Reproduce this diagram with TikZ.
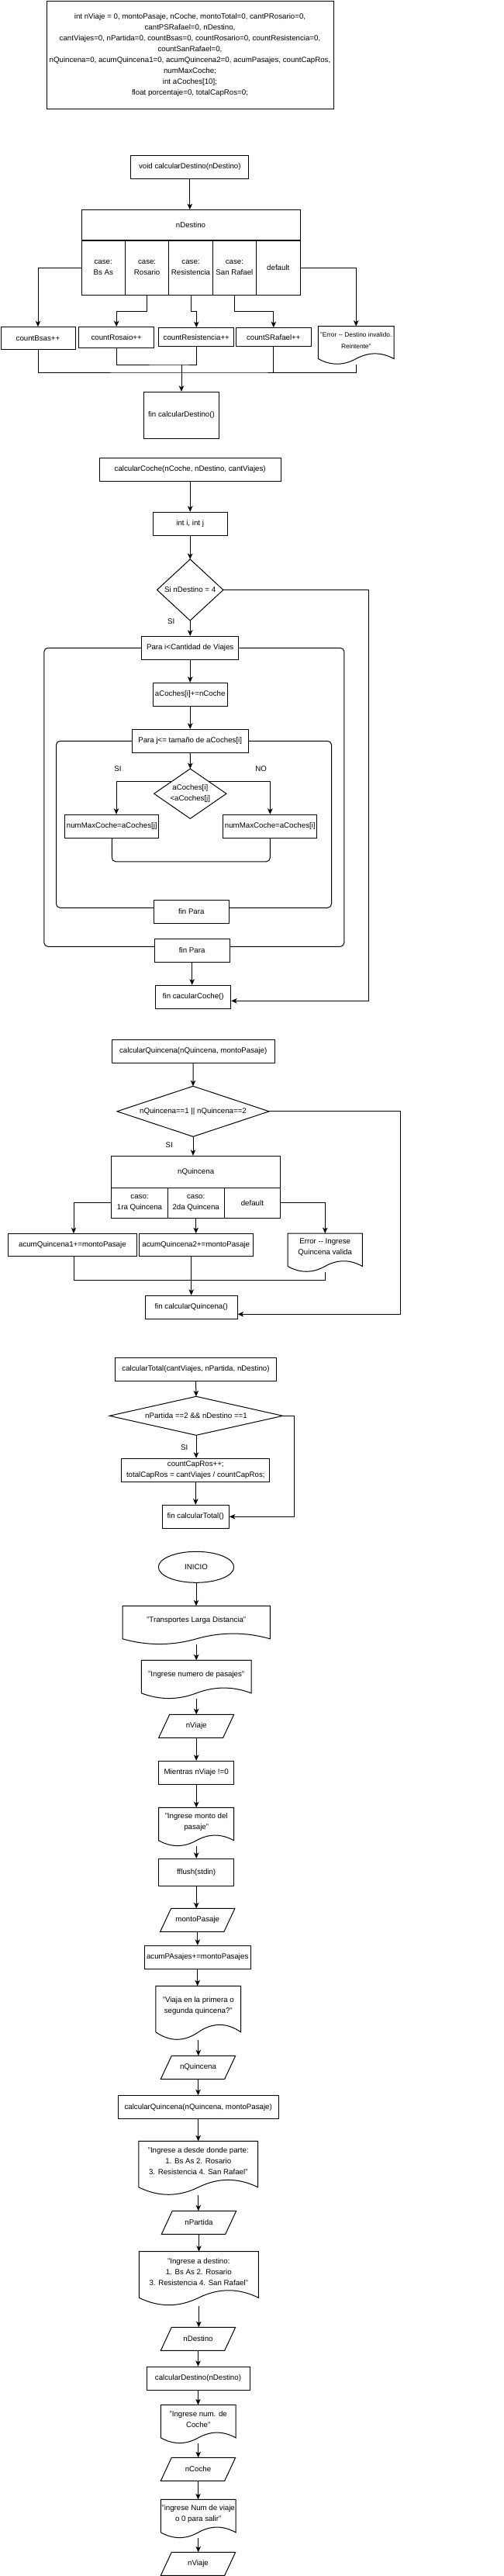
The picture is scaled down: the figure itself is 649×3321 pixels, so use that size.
\documentclass[tikz,border=0pt]{standalone}
\usepackage{fontspec}
\setmainfont{Liberation Sans}
\usetikzlibrary{arrows.meta,positioning,shapes.geometric,calc}

\tikzset{
  caja/.style={draw, rectangle, align=center, inner sep=1pt},
  hueco/.style={rectangle, align=center, inner sep=1pt, outer sep=0pt},
  tam/.style 2 args={minimum width=#1pt, minimum height=#2pt},
  flecha/.style={-{Stealth[length=7.5pt,width=6.5pt,inset=2pt]}},
  lazo/.style={rounded corners=5pt},
  etiq/.style={inner sep=0pt}
}
% contornos dibujados sobre un nodo vacio
\newcommand{\rombo}[1]{\draw (#1.north) -- (#1.east) -- (#1.south) -- (#1.west) -- cycle;}
\newcommand{\paral}[1]{\draw ([xshift=14pt]#1.north west) -- (#1.north east) -- ([xshift=-14pt]#1.south east) -- (#1.south west) -- cycle;}
\newcommand{\docwave}[1]{%
  \draw let \p1=(#1.south west), \p2=(#1.north east) in
    (\x1,\y2) -- (\x2,\y2) -- (\x2,{\y1+0.15*((\y2)-(\y1))})
    .. controls ({\x1+0.8333*((\x2)-(\x1))},{\y1+0.33*((\y2)-(\y1))}) and ({\x1+0.6667*((\x2)-(\x1))},{\y1+0.33*((\y2)-(\y1))}) .. ({\x1+0.5*((\x2)-(\x1))},{\y1+0.15*((\y2)-(\y1))})
    .. controls ({\x1+0.3333*((\x2)-(\x1))},{\y1-0.03*((\y2)-(\y1))}) and ({\x1+0.1667*((\x2)-(\x1))},{\y1-0.03*((\y2)-(\y1))}) .. (\x1,{\y1+0.15*((\y2)-(\y1))}) -- cycle;}
\newcommand{\docu}[6][]{%
  \node[hueco, tam={#4}{#5}] (#2) at (#3) {};
  \node[align=center, inner sep=0pt, #1] (#2t) at ([yshift={0.13*#5pt}]#2.center) {#6};
  \docwave{#2}}

\begin{document}
\begin{tikzpicture}[x=1pt, y=-1pt, line width=1pt, font=\fontsize{9.7}{14}\selectfont]
  \useasboundingbox (0,0) rectangle (649,3321);
  % Variables
  \node[caja, tam={370}{139}] (vars) at (245,71) {int nViaje = 0, montoPasaje, nCoche, montoTotal=0, cantPRosario=0,\\ cantPSRafael=0, nDestino,\\ cantViajes=0, nPartida=0, countBsas=0, countRosario=0, countResistencia=0,\\ countSanRafael=0,\\ nQuincena=0, acumQuincena1=0, acumQuincena2=0, acumPasajes, countCapRos,\\ numMaxCoche;\\ int aCoches[10];\\ float porcentaje=0, totalCapRos=0;};

  % calcularDestino
  \node[caja, tam={152}{30}] (fDest) at (244.8,215.3) {void calcularDestino(nDestino)};
  \node[caja, tam={282}{39.3}] (swDest) at (246,290.3) {nDestino};
  \node[caja, tam={56.4}{70}] (csBsAs) at (133.2,345) {case:\\Bs As};
  \node[caja, tam={56.4}{70}] (csRos) at (189.6,345) {case:\\Rosario};
  \node[caja, tam={56.4}{70}] (csRes) at (246,345) {case:\\Resistencia};
  \node[caja, tam={56.4}{70}] (csSanR) at (302.4,345) {case:\\San Rafael};
  \node[caja, tam={56.4}{70}] (csDef) at (358.8,345) {default};
  \node[caja, tam={96}{28.6}] (cntBsas) at (49,436) {countBsas++};
  \node[caja, tam={97}{27.3}] (cntRos) at (150.2,435.3) {countRosaio++};
  \node[caja, tam={97.3}{24.3}] (cntRes) at (253.3,434.8) {countResistencia++};
  \node[caja, tam={97}{24.3}] (cntSRaf) at (352.8,434.8) {countSRafael++};
  \docu[font=\fontsize{8.3}{14.4}\selectfont]{errDest}{459.2,445.3}{97.7}{49.3}{"Error -{}- Destino invalido.\\Reintente"}
  \node[caja, tam={96.6}{60}] (finDest) at (234,535.3) {fin calcularDestino()};
  \coordinate (jDest) at (234,480);
  \coordinate (jDest2) at (234,470);

  \draw[flecha] (fDest.south) -- (fDest.south |- swDest.north);
  \draw[flecha] (csBsAs.west) -| (cntBsas.north);
  \draw[flecha] (csRos.south) -- ++(0,21) -| (cntRos.north);
  \draw[flecha] (csRes.south) -- ++(0,21) -| (cntRes.north);
  \draw[flecha] (csSanR.south) -- ++(0,21) -| (cntSRaf.north);
  \draw[flecha] (csDef.east) -| (errDest.north);
  \draw (cntBsas.south) |- (jDest) -| (errDest.south);
  \draw (cntSRaf.south) -- (cntSRaf.south |- jDest);
  \draw (cntRos.south) |- (jDest2) -| (cntRes.south);
  \draw[flecha] (jDest2) -- (finDest.north);

  % calcularCoche
  \node[caja, tam={233.7}{30}] (fCoche) at (245.2,605.3) {calcularCoche(nCoche, nDestino, cantViajes)};
  \node[caja, tam={96.3}{30}] (intIJ) at (245.2,675.3) {int i, int j};
  \node[hueco, tam={85.4}{79}] (dCoche) at (245.2,760.5) {Si nDestino = 4};
  \rombo{dCoche}
  \node[etiq] (siCoche) at (220.7,801) {SI};
  \node[caja, tam={125.4}{30}] (paraI) at (245.2,835.3) {Para i<Cantidad de Viajes};
  \node[caja, tam={96.3}{30}] (aCoch) at (245.2,895.3) {aCoches[i]+=nCoche};
  \node[caja, tam={149.7}{30}] (paraJ) at (245.2,955.3) {Para j<= tamaño de aCoches[i]};
  \node[hueco, tam={93.3}{64.3}] (dMax) at (245.3,1023.2) {aCoches[i]\\<aCoches[j]};
  \rombo{dMax}
  \node[etiq] (siMax) at (152,991) {SI};
  \node[etiq] (noMax) at (336.7,991) {NO};
  \node[caja, tam={120.7}{30}] (maxJ) at (144.3,1065.3) {numMaxCoche=aCoches[j]};
  \node[caja, tam={120.7}{30}] (maxI) at (348.3,1065.3) {numMaxCoche=aCoches[i]};
  \node[caja, tam={97}{30}] (finParaJ) at (246.8,1175.3) {fin Para};
  \node[caja, tam={96.7}{30}] (finParaI) at (247.7,1225.3) {fin Para};
  \node[caja, tam={96.7}{30}] (finCoche) at (249.3,1285.3) {fin cacularCoche()};

  \draw[flecha] (fCoche) -- (intIJ);
  \draw[flecha] (intIJ) -- (dCoche.north);
  \draw[flecha] (dCoche.south) -- (paraI);
  \draw[flecha] (paraI) -- (aCoch);
  \draw[flecha] (aCoch) -- (paraJ);
  \draw[flecha] (paraJ) -- (dMax.north);
  \draw[flecha] ($(dMax.north)!0.5!(dMax.west)$) -| ([xshift=5.7pt]maxJ.north);
  \draw[flecha] ($(dMax.north)!0.5!(dMax.east)$) -| (maxI.north);
  \draw[lazo] (maxJ.south) |- ([yshift=-30pt]maxI.south) -- (maxI.south);
  \draw[lazo] (paraJ.west) -| ([xshift=-125.3pt,yshift=5pt]finParaJ.west) -- ([yshift=5pt]finParaJ.west);
  \draw[lazo] (paraJ.east) -| ([xshift=131.7pt,yshift=5pt]finParaJ.east) -- ([yshift=5pt]finParaJ.east);
  \draw[lazo] (paraI.west) -| ([xshift=-142pt,yshift=5pt]finParaI.west) -- ([yshift=5pt]finParaI.west);
  \draw[lazo] (paraI.east) -| ([xshift=147.3pt,yshift=5pt]finParaI.east) -- ([yshift=5pt]finParaI.east);
  \draw[flecha] (finParaI.south) -- (finParaI.south |- finCoche.north);
  \draw[flecha] (dCoche.east) -| ([xshift=177.3pt,yshift=-5pt]finCoche.east) -- ([yshift=-5pt]finCoche.east);

  % calcularQuincena
  \node[caja, tam={209.7}{30}] (fQuin) at (249.2,1355.3) {calcularQuincena(nQuincena, montoPasaje)};
  \node[hueco, tam={196}{65}] (dQuin) at (249,1432.8) {nQuincena==1 || nQuincena==2};
  \rombo{dQuin}
  \node[etiq] (siQuin) at (218.3,1476) {SI};
  \node[caja, tam={218}{40.7}] (swQuin) at (252.7,1510.7) {nQuincena};
  \node[caja, tam={72.7}{39.3}] (csQ1) at (180,1550.7) {caso:\\1ra Quincena};
  \node[caja, tam={72.7}{39.3}] (csQ2) at (252.7,1550.7) {caso:\\2da Quincena};
  \node[caja, tam={72.7}{39.3}] (csQDef) at (325.4,1550.7) {default};
  \node[caja, tam={166.7}{29.3}] (acumQ1) at (93.4,1605.3) {acumQuincena1+=montoPasaje};
  \node[caja, tam={146.7}{29.3}] (acumQ2) at (252.7,1605.3) {acumQuincena2+=montoPasaje};
  \docu{errQuin}{419.2,1615}{96.3}{50}{Error -{}- Ingrese\\Quincena valida}
  \node[caja, tam={118.7}{30}] (finQuin) at (246.7,1685.3) {fin calcularQuincena()};

  \draw[flecha] (fQuin.south) -- (dQuin.north);
  \draw[flecha] (dQuin.south) -- (dQuin.south |- swQuin.north);
  \draw[flecha] (csQ1.west) -| ([xshift=1.6pt]acumQ1.north);
  \draw[flecha] (csQ2.south) -- (acumQ2.north);
  \draw[flecha] (csQDef.east) -| (errQuin.north);
  \draw ([xshift=1.6pt]acumQ1.south) |- ([yshift=-10.3pt]errQuin.south) -- (errQuin.south);
  \draw[flecha] (finQuin.north |- acumQ2.south) -- (finQuin.north);
  \draw[flecha] (dQuin.east) -| ([xshift=210pt,yshift=-9pt]finQuin.east) -- ([yshift=-9pt]finQuin.east);

  % calcularTotal
  \node[caja, tam={208.4}{30}] (fTot) at (252.5,1765.3) {calcularTotal(cantViajes, nPartida, nDestino)};
  \node[hueco, tam={223.4}{50}] (dTot) at (253,1825.3) {nPartida ==2 \&\& nDestino ==1};
  \rombo{dTot}
  \node[etiq] (siTot) at (237.7,1866) {SI};
  \node[caja, tam={190.7}{30}] (capRos) at (252.3,1895.3) {countCapRos++;\\totalCapRos = cantViajes / countCapRos;};
  \node[caja, tam={86.3}{30}] (finTot) at (252.2,1955.3) {fin calcularTotal()};

  \draw[flecha] (fTot.south) -- (dTot.north);
  \draw[flecha] (dTot.south) -- (dTot.south |- capRos.north);
  \draw[flecha] (capRos.south) -- (capRos.south |- finTot.north);
  \draw[flecha] (dTot.east) -| ([xshift=83.7pt]finTot.east) -- (finTot.east);

  % Programa principal
  \node[draw, ellipse, inner sep=1pt, tam={97.4}{40}] (inicio) at (253,2020.3) {INICIO};
  \docu{tTransp}{253.2,2095.3}{190.3}{50}{"Transportes Larga Distancia"}
  \docu{tPasajes}{253.2,2165.3}{141.7}{50}{"Ingrese numero de pasajes"}
  \node[hueco, tam={97}{30}] (inViaje) at (253.2,2225.3) {nViaje};
  \paral{inViaje}
  \node[caja, tam={97}{30}] (mientras) at (253.2,2285.3) {Mientras nViaje !=0};
  \docu{tMonto}{253.2,2355.3}{97}{50}{"Ingrese monto del\\pasaje"}
  \node[caja, tam={97}{35}] (fflush) at (253.2,2413.8) {fflush(stdin)};
  \node[hueco, tam={96.3}{30}] (inMonto) at (254.8,2475.3) {montoPasaje};
  \paral{inMonto}
  \node[caja, tam={136.7}{30}] (acumPas) at (254.7,2523.3) {acumPAsajes+=montoPasajes};
  \docu{tQuin}{255.8,2595.3}{109.7}{70}{"Viaja en la primera o\\segunda quincena?"}
  \node[hueco, tam={96.4}{30}] (inQuin) at (255.5,2665.3) {nQuincena};
  \paral{inQuin}
  \node[caja, tam={207.3}{30}] (llQuin) at (255.7,2716.7) {calcularQuincena(nQuincena, montoPasaje)};
  \docu{tPartida}{255.8,2795.3}{153.7}{70}{"Ingrese a desde donde parte:\\1. Bs As 2. Rosario\\3. Resistencia 4. San Rafael"}
  \node[hueco, tam={96.4}{30}] (inPartida) at (256.5,2865.3) {nPartida};
  \paral{inPartida}
  \docu{tDestino}{256.3,2937.7}{154}{70}{"Ingrese a destino:\\1. Bs As 2. Rosario\\3. Resistencia 4. San Rafael"}
  \node[hueco, tam={96.4}{30}] (inDestino) at (255.5,3015.3) {nDestino};
  \paral{inDestino}
  \node[caja, tam={133}{30}] (llDest) at (255.5,3066.3) {calcularDestino(nDestino)};
  \docu{tCoche}{255.7,3125.3}{96.7}{50}{"Ingrese num. de\\Coche"}
  \node[hueco, tam={96.4}{30}] (inCoche) at (255.5,3183.3) {nCoche};
  \paral{inCoche}
  \docu{tViaje}{255.7,3247.3}{96.7}{50}{"ingrese Num de viaje\\o 0 para salir"}
  \node[hueco, tam={96.4}{30}] (inViaje2) at (255.5,3305.3) {nViaje};
  \paral{inViaje2}

  \draw[flecha] (inicio.south) -- (inicio.south |- tTransp.north);
  \draw[flecha] (tTransp.south) -- (tTransp.south |- tPasajes.north);
  \draw[flecha] (tPasajes.south) -- (tPasajes.south |- inViaje.north);
  \draw[flecha] (inViaje.south) -- (inViaje.south |- mientras.north);
  \draw[flecha] (mientras.south) -- (mientras.south |- tMonto.north);
  \draw[flecha] (tMonto.south) -- (tMonto.south |- fflush.north);
  \draw[flecha] (fflush.south) -- (fflush.south |- inMonto.north);
  \draw[flecha] (inMonto.south) -- (inMonto.south |- acumPas.north);
  \draw[flecha] (acumPas.south) -- (acumPas.south |- tQuin.north);
  \draw[flecha] (tQuin.south) -- (tQuin.south |- inQuin.north);
  \draw[flecha] (inQuin.south) -- (inQuin.south |- llQuin.north);
  \draw[flecha] (llQuin.south) -- (llQuin.south |- tPartida.north);
  \draw[flecha] (tPartida.south) -- (tPartida.south |- inPartida.north);
  \draw[flecha] (inPartida.south) -- (inPartida.south |- tDestino.north);
  \draw[flecha] (tDestino.south) -- (tDestino.south |- inDestino.north);
  \draw[flecha] (inDestino.south) -- (inDestino.south |- llDest.north);
  \draw[flecha] (llDest.south) -- (llDest.south |- tCoche.north);
  \draw[flecha] (tCoche.south) -- (tCoche.south |- inCoche.north);
  \draw[flecha] (inCoche.south) -- (inCoche.south |- tViaje.north);
  \draw[flecha] (tViaje.south) -- (tViaje.south |- inViaje2.north);
\end{tikzpicture}
\end{document}
